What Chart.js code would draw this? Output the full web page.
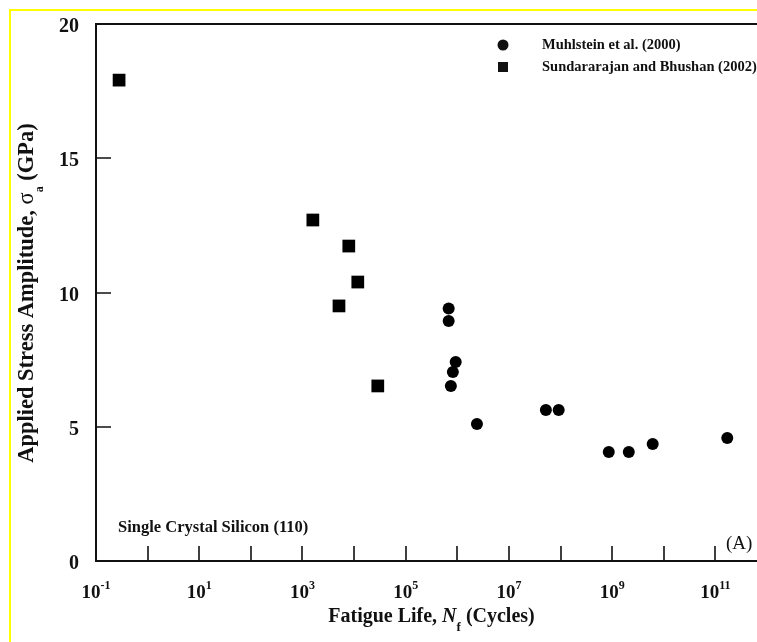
<!DOCTYPE html>
<html>
<head>
<meta charset="utf-8">
<script src="https://cdn.jsdelivr.net/npm/chart.js@4"></script>
<style>
  html, body { margin: 0; padding: 0; background: #fff; overflow: hidden; }
  #wrap { width: 780px; height: 642px; }
</style>
</head>
<body>
<div id="wrap"><canvas id="fatigueChart" width="780" height="642"></canvas></div>
<script>
// Muhlstein et al. (2000) - circles
const muhlsteinCycles = [6.8e5, 6.8e5, 9.3e5, 8.2e5, 7.5e5, 2.4e6, 5.2e7, 9.2e7, 8.6e8, 2.1e9, 6.1e9, 1.7e11];
const muhlsteinStress = [9.40, 8.94, 7.41, 7.04, 6.52, 5.10, 5.62, 5.62, 4.06, 4.06, 4.36, 4.58];

// Sundararajan and Bhushan (2002) - squares
const sbCycles = [0.28, 1590, 7900, 11800, 5100, 28800];
const sbStress = [17.91, 12.70, 11.73, 10.39, 9.50, 6.52];

const seriesNames = ["Muhlstein et al. (2000)", "Sundararajan and Bhushan (2002)"];
const decadeExponents = [-1, 0, 1, 2, 3, 4, 5, 6, 7, 8, 9, 10, 11, 12];
const labelledExponents = [-1, 1, 3, 5, 7, 9, 11];
const stressTicks = [0, 5, 10, 15, 20];

const SERIF = "'Liberation Serif', 'Times New Roman', serif";
const INK = "#111";

function toPoints(xs, ys) {
  return xs.map((x, i) => ({ x: x, y: ys[i] }));
}

// draws a run of differently styled text pieces, centred on (cx, baseline)
function drawRich(ctx, parts, cx, baseline) {
  let total = 0;
  parts.forEach(p => { ctx.font = p.font; p.w = ctx.measureText(p.t).width; total += p.w; });
  let x = cx - total / 2;
  ctx.textAlign = "left";
  ctx.textBaseline = "alphabetic";
  parts.forEach(p => {
    ctx.font = p.font;
    ctx.fillText(p.t, x, baseline + (p.dy || 0));
    x += p.w;
  });
}

const decorPlugin = {
  id: "decor",
  beforeDraw(chart) {
    const ctx = chart.ctx;
    ctx.save();
    ctx.fillStyle = "#fff";
    ctx.fillRect(0, 0, chart.width, chart.height);
    // yellow frame around the figure
    ctx.strokeStyle = "#ffff00";
    ctx.lineWidth = 2;
    ctx.beginPath();
    ctx.moveTo(10, chart.height + 5);
    ctx.lineTo(10, 10);
    ctx.lineTo(chart.width + 5, 10);
    ctx.stroke();
    ctx.restore();
  },
  afterDraw(chart) {
    const ctx = chart.ctx;
    const a = chart.chartArea;
    const xs = chart.scales.x, ys = chart.scales.y;
    ctx.save();
    ctx.strokeStyle = INK;
    ctx.fillStyle = INK;
    ctx.lineWidth = 2;

    // frame top and right
    ctx.beginPath();
    ctx.moveTo(a.left - 1, a.top);
    ctx.lineTo(a.right, a.top);
    ctx.lineTo(a.right, a.bottom);
    ctx.stroke();

    // inward ticks
    ctx.lineWidth = 1.6;
    ctx.beginPath();
    decadeExponents.forEach(e => {
      const px = Math.round(xs.getPixelForValue(Math.pow(10, e)));
      if (px <= a.left + 2 || px >= a.right - 2) return;
      ctx.moveTo(px, a.bottom);
      ctx.lineTo(px, a.bottom - 15);
    });
    stressTicks.forEach(v => {
      const py = Math.round(ys.getPixelForValue(v));
      if (py >= a.bottom - 2 || py <= a.top + 2) return;
      ctx.moveTo(a.left, py);
      ctx.lineTo(a.left + 15, py);
    });
    ctx.stroke();

    // x tick labels 10^n
    labelledExponents.forEach(e => {
      const px = xs.getPixelForValue(Math.pow(10, e));
      drawRich(ctx, [
        { t: "10", font: "bold 19px " + SERIF },
        { t: String(e), font: "bold 12px " + SERIF, dy: -9 }
      ], px, 598);
    });

    // x axis title
    drawRich(ctx, [
      { t: "Fatigue Life, ", font: "bold 20px " + SERIF },
      { t: "N", font: "italic bold 20px " + SERIF },
      { t: "f", font: "bold 13px " + SERIF, dy: 9 },
      { t: " (Cycles)", font: "bold 20px " + SERIF }
    ], (a.left + a.right) / 2, 622);

    // y axis title
    ctx.save();
    ctx.translate(33, 293);
    ctx.rotate(-Math.PI / 2);
    drawRich(ctx, [
      { t: "Applied Stress Amplitude, ", font: "bold 22.5px " + SERIF },
      { t: "\u03c3", font: "22.5px " + SERIF },
      { t: "a", font: "bold 12px " + SERIF, dy: 10 },
      { t: " (GPa)", font: "bold 22.5px " + SERIF }
    ], 0, 0);
    ctx.restore();

    // legend
    ctx.beginPath();
    ctx.arc(503, 45, 5.5, 0, Math.PI * 2);
    ctx.fill();
    ctx.fillRect(498, 62, 10, 10);
    ctx.font = "bold 14.5px " + SERIF;
    ctx.textAlign = "left";
    ctx.textBaseline = "middle";
    ctx.fillText(seriesNames[0], 542, 45);
    ctx.fillText(seriesNames[1], 542, 67);

    // annotations
    ctx.font = "bold 16.5px " + SERIF;
    ctx.fillText("Single Crystal Silicon (110)", 118, 528);
    ctx.font = "19px " + SERIF;
    ctx.fillText("(A)", 726, 544);
    ctx.restore();
  }
};

new Chart(document.getElementById("fatigueChart"), {
  type: "scatter",
  data: {
    datasets: [
      {
        label: seriesNames[0],
        data: toPoints(muhlsteinCycles, muhlsteinStress),
        pointStyle: "circle",
        pointRadius: 6,
        backgroundColor: "#000",
        borderWidth: 0
      },
      {
        label: seriesNames[1],
        data: toPoints(sbCycles, sbStress),
        pointStyle: "rect",
        pointRadius: 9,
        backgroundColor: "#000",
        borderWidth: 0
      }
    ]
  },
  options: {
    responsive: false,
    animation: false,
    layout: { padding: { left: 0, top: 24, right: 13, bottom: 0 } },
    plugins: {
      legend: { display: false },
      tooltip: { enabled: false }
    },
    scales: {
      x: {
        type: "logarithmic",
        min: 0.1,
        max: 1e12,
        grid: { display: true, drawOnChartArea: false, drawTicks: false },
        border: { display: true, color: INK, width: 2 },
        ticks: { display: false },
        afterFit: s => { s.height = 81; s.paddingLeft = 0; s.paddingRight = 0; }
      },
      y: {
        min: 0,
        max: 20,
        grid: { display: true, drawOnChartArea: false, drawTicks: false },
        border: { display: true, color: INK, width: 2 },
        ticks: {
          stepSize: 5,
          padding: 17,
          labelOffset: 3,
          color: INK,
          font: { family: SERIF, weight: "bold", size: 20 }
        },
        afterFit: s => { s.width = 96; s.paddingTop = 0; s.paddingBottom = 0; }
      }
    }
  },
  plugins: [decorPlugin]
});
</script>
</body>
</html>
